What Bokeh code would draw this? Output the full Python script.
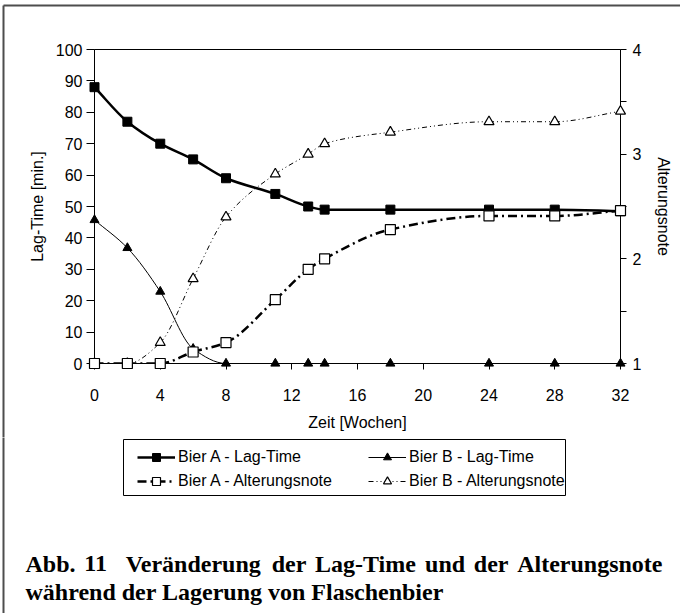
import numpy as np
from bokeh.plotting import figure
from bokeh.layouts import column
from bokeh.core.properties import value
from bokeh.models import (Range1d, LinearAxis, FixedTicker, Legend, LegendItem, ColumnDataSource)
from bokeh.embed import file_html
from bokeh.resources import INLINE

# ---------------- data ----------------
weeks = [0, 2, 4, 6, 8, 11, 13, 14, 18, 24, 28, 32]
bier_a_lag = [88, 77, 70, 65, 59, 54, 50, 49, 49, 49, 49, 48.5]
bier_b_lag = [45.7, 36.8, 22.9, 4.7, 0, 0, 0, 0, 0, 0, 0, 0]
bier_a_alt = [1.0, 1.0, 1.0, 1.11, 1.2, 1.61, 1.9, 2.0, 2.28, 2.41, 2.41, 2.46]
bier_b_alt = [1.0, 1.0, 1.2, 1.81, 2.4, 2.81, 3.0, 3.1, 3.21, 3.31, 3.31, 3.41]

x_ticks = [0, 4, 8, 12, 16, 20, 24, 28, 32]
left_ticks = [0, 10, 20, 30, 40, 50, 60, 70, 80, 90, 100]
right_ticks = [1, 2, 3, 4]
right_minor_ticks = [1.5, 2.5, 3.5]

label_a_lag = "Bier A - Lag-Time"
label_b_lag = "Bier B - Lag-Time"
label_a_alt = "Bier A - Alterungsnote"
label_b_alt = "Bier B - Alterungsnote"
caption_1 = "Abb. 11  Veränderung der Lag-Time und der Alterungsnote"
caption_2 = "während der Lagerung von Flaschenbier"


def smooth_segments(x, y):
    """Bezier control points (monotone cubic) for a smoothed line through the data points."""
    x = np.asarray(x, float)
    y = np.asarray(y, float)
    h = np.diff(x)
    d = np.diff(y) / h
    n = len(x)
    m = np.zeros(n)
    m[0] = d[0]
    m[-1] = d[-1]
    for i in range(1, n - 1):
        if d[i - 1] * d[i] <= 0:
            m[i] = 0.0
        else:
            w1 = 2 * h[i] + h[i - 1]
            w2 = h[i] + 2 * h[i - 1]
            m[i] = (w1 + w2) / (w1 / d[i - 1] + w2 / d[i])
    return ColumnDataSource(dict(
        x0=x[:-1], y0=y[:-1], x1=x[1:], y1=y[1:],
        cx0=x[:-1] + h / 3, cy0=y[:-1] + m[:-1] * h / 3,
        cx1=x[1:] - h / 3, cy1=y[1:] - m[1:] * h / 3,
    ))


# Times/Liberation Serif Bold advance widths (1/1000 em), used to justify caption line 1
SERIF_BOLD = {"A": 722, "b": 556, ".": 250, "1": 500, "V": 722, "e": 444, "r": 444, "ä": 500,
              "n": 556, "d": 556, "u": 556, "g": 500, "L": 667, "a": 500, "-": 333, "T": 667,
              "i": 278, "m": 833, "l": 278, "t": 333, "s": 389, "o": 500}


def justify(line, left, right, size):
    words = line.split(" ")
    n_spaces = len(words) - 1
    words = [w for w in words if w]
    widths = [sum(SERIF_BOLD.get(c, 500) for c in w) * size / 1000 for w in words]
    gap = (right - left - sum(widths)) / n_spaces
    xs, x, parts = [], left, line.split(" ")
    k = 0
    for i, part in enumerate(parts):
        if part:
            xs.append(x)
            x += widths[k]
            k += 1
        if i < len(parts) - 1:
            x += gap
    return words, xs


FONT = "Liberation Sans"
W, H = 680, 613
H1 = 437                      # height of the chart part
BL, BR, BT, BB = 94, 60, 49, 74

# ---------------- chart ----------------
p = figure(width=W, height=H1, x_range=Range1d(0, 32), y_range=Range1d(0, 100),
           output_backend="svg", toolbar_location=None,
           min_border_left=BL, min_border_right=BR, min_border_top=BT, min_border_bottom=BB)
p.extra_y_ranges = {"right": Range1d(1, 4), "px_y": Range1d(H1 - BB, BT)}
p.extra_x_ranges = {"px_x": Range1d(BL, W - BR)}
p.xgrid.visible = False
p.ygrid.visible = False
p.outline_line_color = "black"
p.outline_line_width = 1
p.background_fill_color = "white"
p.border_fill_color = "white"

xa = p.xaxis[0]
xa.ticker = FixedTicker(ticks=x_ticks)
xa.major_tick_out = 6
xa.major_tick_in = 0
xa.minor_tick_out = 0
xa.minor_tick_in = 0
xa.major_label_standoff = 19
xa.axis_label = "Zeit [Wochen]"
xa.axis_label_standoff = 10

ya = p.yaxis[0]
ya.ticker = FixedTicker(ticks=left_ticks)
ya.major_tick_out = 8
ya.major_tick_in = 0
ya.minor_tick_out = 0
ya.minor_tick_in = 0
ya.major_label_standoff = 4
ya.axis_label = "Lag-Time [min.]"
ya.axis_label_standoff = 7

ra = LinearAxis(y_range_name="right")
ra.ticker = FixedTicker(ticks=right_ticks, minor_ticks=right_minor_ticks)
ra.major_tick_out = 6
ra.major_tick_in = 0
ra.minor_tick_out = 6
ra.minor_tick_in = 0
ra.major_label_standoff = 6
ra.axis_label = "Alterungsnote"
ra.axis_label_standoff = 11
p.add_layout(ra, "right")

for ax in (xa, ya, ra):
    ax.axis_line_color = "black"
    ax.axis_line_width = 1
    ax.major_tick_line_color = "black"
    ax.minor_tick_line_color = "black"
    ax.major_label_text_font = FONT
    ax.major_label_text_font_size = "16px"
    ax.major_label_text_color = "black"
    ax.axis_label_text_font = FONT
    ax.axis_label_text_font_size = "16px"
    ax.axis_label_text_font_style = "normal"
    ax.axis_label_text_color = "black"

# styles of the four series
style_a_lag_line = dict(line_color="black", line_width=2.5)
style_b_lag_line = dict(line_color="black", line_width=1)
style_a_alt_line = dict(line_color="black", line_width=2.5, line_dash="9 4 2 4")
style_b_alt_line = dict(line_color="black", line_width=1, line_dash="5 3 1 3 1 3")
style_a_lag_mark = dict(marker="square", size=9, fill_color="black", line_color="black")
style_b_lag_mark = dict(marker="triangle", size=9, fill_color="black", line_color="black")
style_a_alt_mark = dict(marker="square", size=10, fill_color="white", line_color="black", line_width=1.2)
style_b_alt_mark = dict(marker="triangle", size=10, fill_color="white", line_color="black", line_width=1.2)

bz = dict(x0="x0", y0="y0", x1="x1", y1="y1", cx0="cx0", cy0="cy0", cx1="cx1", cy1="cy1")
p.bezier(source=smooth_segments(weeks, bier_b_lag), **bz, **style_b_lag_line)
p.bezier(source=smooth_segments(weeks, bier_a_lag), **bz, **style_a_lag_line)
p.bezier(source=smooth_segments(weeks, bier_b_alt), y_range_name="right", **bz, **style_b_alt_line)
p.bezier(source=smooth_segments(weeks, bier_a_alt), y_range_name="right", **bz, **style_a_alt_line)

p.scatter(weeks, bier_a_lag, level="overlay", **style_a_lag_mark)
p.scatter(weeks, bier_b_lag, level="overlay", **style_b_lag_mark)
p.scatter(weeks, bier_b_alt, y_range_name="right", level="overlay", **style_b_alt_mark)
p.scatter(weeks, bier_a_alt, y_range_name="right", level="overlay", **style_a_alt_mark)

# page frame edges (left and top), in page pixels
p.segment(x0=[3, 3], y0=[5, 5], x1=[3, W], y1=[H1, 5], x_range_name="px_x", y_range_name="px_y",
          line_color="#4d4d4d", line_width=2, level="overlay")

# ---------------- legend + caption part (data units = page pixels) ----------------
q = figure(width=W, height=H - H1, x_range=Range1d(BL, W - BR), y_range=Range1d(H, H1),
           output_backend="svg", toolbar_location=None, x_axis_type=None, y_axis_type=None,
           min_border_left=BL, min_border_right=BR, min_border_top=0, min_border_bottom=0)
q.xgrid.visible = False
q.ygrid.visible = False
q.outline_line_color = None
q.background_fill_color = "white"
q.border_fill_color = "white"

# legend sample renderers (same series; they fall outside this panel's visible range)
g_a_lag = q.bezier(source=smooth_segments(weeks, bier_a_lag), **bz, **style_a_lag_line)
g_b_lag = q.bezier(source=smooth_segments(weeks, bier_b_lag), **bz, **style_b_lag_line)
g_a_alt = q.bezier(source=smooth_segments(weeks, bier_a_alt), **bz, **style_a_alt_line)
g_b_alt = q.bezier(source=smooth_segments(weeks, bier_b_alt), **bz, **style_b_alt_line)
k_a_lag = q.scatter(weeks, bier_a_lag, **style_a_lag_mark)
k_b_lag = q.scatter(weeks, bier_b_lag, **style_b_lag_mark)
k_a_alt = q.scatter(weeks, bier_a_alt, **style_a_alt_mark)
k_b_alt = q.scatter(weeks, bier_b_alt, **style_b_alt_mark)

legend = Legend(items=[LegendItem(label=label_a_lag, renderers=[g_a_lag, k_a_lag]),
                       LegendItem(label=label_b_lag, renderers=[g_b_lag, k_b_lag]),
                       LegendItem(label=label_a_alt, renderers=[g_a_alt, k_a_alt]),
                       LegendItem(label=label_b_alt, renderers=[g_b_alt, k_b_alt])],
                orientation="horizontal", ncols=2, location=(131 - BL, H - 497),
                padding=6, spacing=4, margin=0, glyph_width=38, glyph_height=20,
                label_height=20, label_width=186, label_standoff=3,
                label_text_font=FONT, label_text_font_size="16px", label_text_color="black",
                border_line_alpha=0, background_fill_alpha=0)
q.add_layout(legend)

q.quad(left=[123], right=[565], top=[439], bottom=[495], fill_alpha=0,
       line_color="black", line_width=1, level="overlay")
q.segment(x0=[3], y0=[H1], x1=[3], y1=[H], line_color="#4d4d4d", line_width=2, level="overlay")

CAP_SIZE = 24
cap = dict(text_font=value("Liberation Serif"), text_font_style="bold",
           text_font_size=f"{CAP_SIZE}px", text_color="black", text_baseline="alphabetic",
           level="overlay")
words_1, xs_1 = justify(caption_1, 25, 662, CAP_SIZE)
q.text(x=xs_1, y=[563] * len(words_1), text=words_1, text_align="left", **cap)
q.text(x=[25], y=[591], text=[caption_2], text_align="left", **cap)

layout = column(p, q, spacing=0)
open("out.html", "w").write(file_html(layout, INLINE))
